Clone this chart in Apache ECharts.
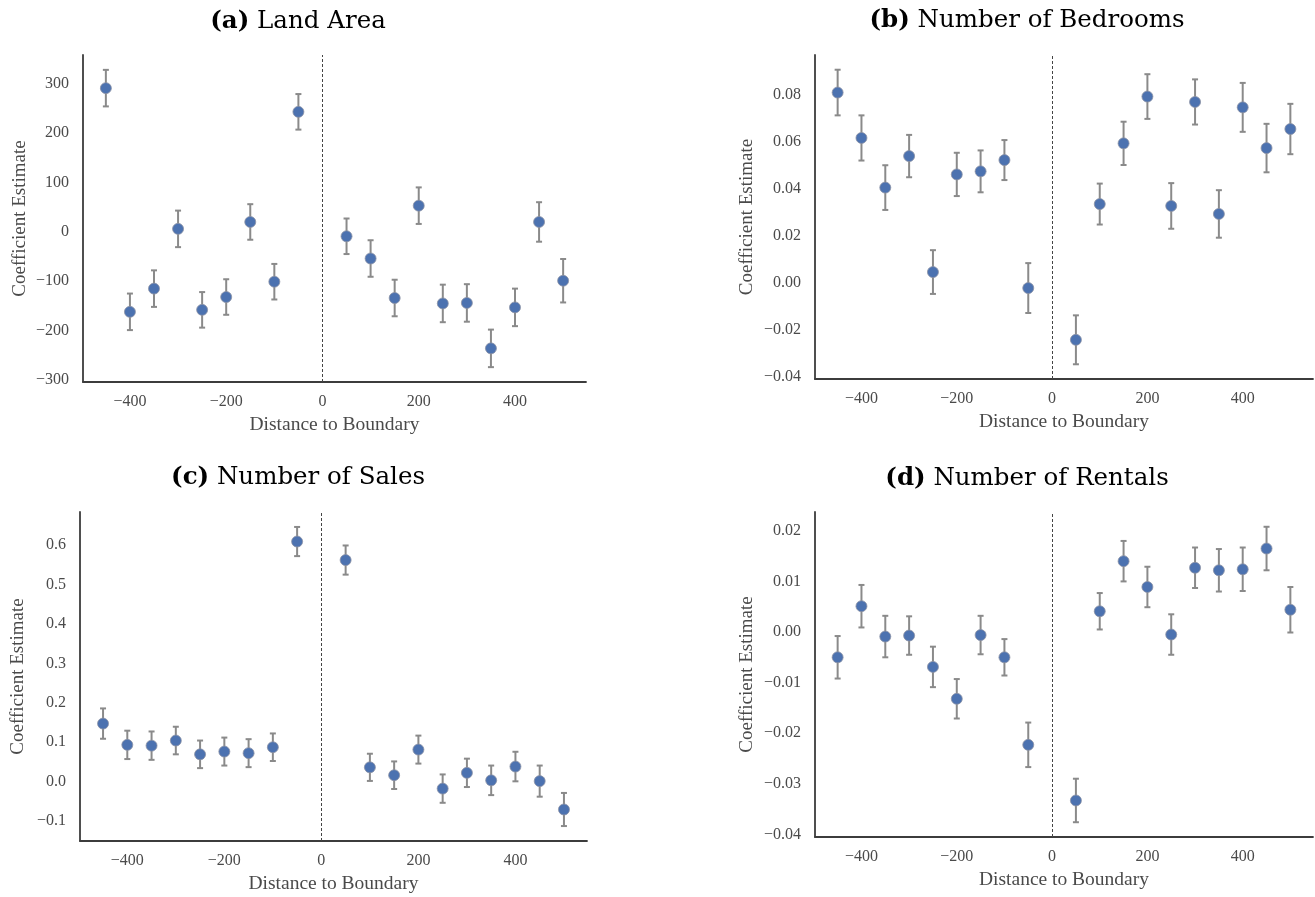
<!DOCTYPE html>
<html>
<head>
<meta charset="utf-8">
<script src="https://cdn.jsdelivr.net/npm/echarts@6.0.0/dist/echarts.min.js"></script>
<style>
  html, body { margin: 0; padding: 0; background: #fff; }
  #chart { width: 1315px; height: 897px; }
</style>
</head>
<body>
<div id="chart"></div>
<script>
// ---------------- DATA ----------------
const distances = [-450, -400, -350, -300, -250, -200, -150, -100, -50, 50, 100, 150, 200, 250, 300, 350, 400, 450, 500];

const landEst = [291, -162, -115, 6, -158, -132, 20, -101, 243, -9, -54, -134, 53, -145, -144, -236, -153, 20, -99];
const landErr = [37, 37, 37, 37, 36, 36, 36, 36, 36, 36, 37, 37, 37, 38, 38, 38, 38, 40, 44];

const bedEst = [0.0810, 0.0617, 0.0406, 0.0540, 0.0047, 0.0462, 0.0475, 0.0523, -0.0021, -0.0241, 0.0336, 0.0594, 0.0793, 0.0328, 0.0770, 0.0294, 0.0747, 0.0574, 0.0655];
const bedErr = [0.0097, 0.0096, 0.0095, 0.0090, 0.0093, 0.0092, 0.0089, 0.0085, 0.0106, 0.0104, 0.0087, 0.0092, 0.0095, 0.0097, 0.0096, 0.0101, 0.0104, 0.0103, 0.0107];

const salesEst = [0.147, 0.093, 0.091, 0.104, 0.069, 0.076, 0.072, 0.087, 0.609, 0.562, 0.036, 0.016, 0.081, -0.018, 0.022, 0.003, 0.038, 0.001, -0.071];
const salesErr = [0.0385, 0.036, 0.036, 0.035, 0.035, 0.0355, 0.0355, 0.035, 0.037, 0.037, 0.0345, 0.035, 0.0355, 0.036, 0.036, 0.0375, 0.0375, 0.0395, 0.042];

const rentEst = [-0.0050, 0.0051, -0.0009, -0.0007, -0.0069, -0.0132, -0.0006, -0.0050, -0.0223, -0.0333, 0.0041, 0.0140, 0.0089, -0.0005, 0.0127, 0.0122, 0.0124, 0.0165, 0.0044];
const rentErr = [0.0042, 0.0042, 0.0041, 0.0038, 0.0040, 0.0039, 0.0038, 0.0036, 0.0044, 0.0043, 0.0036, 0.0040, 0.0040, 0.0040, 0.0040, 0.0042, 0.0043, 0.0043, 0.0045];

const panelLetters = ['(a)', '(b)', '(c)', '(d)'];
const panelNames = ['Land Area', 'Number of Bedrooms', 'Number of Sales', 'Number of Rentals'];

const xTicks = [-400, -200, 0, 200, 400];
const landTicks = [-300, -200, -100, 0, 100, 200, 300];
const bedTicks = [-0.04, -0.02, 0.00, 0.02, 0.04, 0.06, 0.08];
const salesTicks = [-0.1, 0.0, 0.1, 0.2, 0.3, 0.4, 0.5, 0.6];
const rentTicks = [-0.04, -0.03, -0.02, -0.01, 0.00, 0.01, 0.02];

const xLabel = 'Distance to Boundary';
const yLabel = 'Coefficient Estimate';

// ---------------- LAYOUT / STYLE ----------------
const FONT = "'Liberation Serif', 'DejaVu Serif', serif";
const TITLE_FONT = "'DejaVu Serif', 'Liberation Serif', serif";
const panels = [
  { est: landEst,  err: landErr,  ticks: landTicks,  dec: 0, grid: { left: 83,  top: 55,  width: 503, height: 327 }, title: [298, 22],  yGap: 53 },
  { est: bedEst,   err: bedErr,   ticks: bedTicks,   dec: 2, grid: { left: 815, top: 55,  width: 498, height: 324 }, title: [1027, 21], yGap: 58 },
  { est: salesEst, err: salesErr, ticks: salesTicks, dec: 1, grid: { left: 80,  top: 512, width: 507, height: 329 }, title: [298, 478], yGap: 52 },
  { est: rentEst,  err: rentErr,  ticks: rentTicks,  dec: 2, grid: { left: 815, top: 512, width: 498, height: 325 }, title: [1027, 479], yGap: 58 }
];

function fmt(v, dec) {
  let s = Math.abs(v) < 1e-12 ? (0).toFixed(dec) : v.toFixed(dec);
  return s.replace('-', '\u2212');
}

function extent(lo, hi) {
  const mn = Math.min(...lo), mx = Math.max(...hi);
  const m = (mx - mn) * 0.05;
  return [mn - m, mx + m];
}

const xExt = (function () {
  const mn = Math.min(...distances), mx = Math.max(...distances);
  const m = (mx - mn) * 0.05;
  return [mn - m, mx + m];
})();

function renderErr(params, api) {
  const x = api.value(0), lo = api.value(1), hi = api.value(2);
  const a = api.coord([x, lo]);
  const b = api.coord([x, hi]);
  const cap = 3;
  const st = { stroke: '#8a8a8a', lineWidth: 2 };
  return {
    type: 'group',
    children: [
      { type: 'line', shape: { x1: a[0], y1: a[1], x2: b[0], y2: b[1] }, style: st },
      { type: 'line', shape: { x1: b[0] - cap, y1: b[1], x2: b[0] + cap, y2: b[1] }, style: st },
      { type: 'line', shape: { x1: a[0] - cap, y1: a[1], x2: a[0] + cap, y2: a[1] }, style: st }
    ]
  };
}

const grids = [], xAxes = [], yAxes = [], series = [], graphics = [];

panels.forEach((p, i) => {
  const lo = p.est.map((v, k) => v - p.err[k]);
  const hi = p.est.map((v, k) => v + p.err[k]);
  const yExt = extent(lo, hi);

  grids.push(Object.assign({ containLabel: false }, p.grid));

  xAxes.push({
    type: 'value', gridIndex: i, min: xExt[0], max: xExt[1],
    axisLine: { show: true, onZero: false, lineStyle: { color: '#3c3c3c', width: 1.8 } },
    axisTick: { show: false },
    splitLine: { show: false },
    axisLabel: {
      customValues: xTicks, margin: 12, color: '#4a4a4a', fontFamily: FONT, fontSize: 16,
      formatter: v => fmt(v, 0)
    },
    name: xLabel, nameLocation: 'middle', nameGap: 33,
    nameTextStyle: { color: '#4a4a4a', fontFamily: FONT, fontSize: 19.5 }
  });

  yAxes.push({
    type: 'value', gridIndex: i, min: yExt[0], max: yExt[1],
    axisLine: { show: true, onZero: false, lineStyle: { color: '#3c3c3c', width: 1.8 } },
    axisTick: { show: false },
    splitLine: { show: false },
    axisLabel: {
      customValues: p.ticks, margin: 14, color: '#4a4a4a', fontFamily: FONT, fontSize: 16,
      formatter: v => fmt(v, p.dec)
    },
    name: yLabel, nameLocation: 'middle', nameGap: p.yGap, nameRotate: 90,
    nameTextStyle: { color: '#4a4a4a', fontFamily: FONT, fontSize: 19 }
  });

  series.push({
    type: 'custom', xAxisIndex: i, yAxisIndex: i, z: 2,
    renderItem: renderErr,
    encode: { x: 0, y: [1, 2] },
    data: distances.map((d, k) => [d, lo[k], hi[k]]),
    silent: true
  });

  series.push({
    type: 'scatter', xAxisIndex: i, yAxisIndex: i, z: 3,
    symbol: 'circle', symbolSize: 11,
    itemStyle: { color: '#4c72b0', borderColor: '#8c92a4', borderWidth: 0.8, opacity: 1 },
    data: distances.map((d, k) => [d, p.est[k]]),
    silent: true,
    markLine: {
      silent: true, symbol: 'none', animation: false,
      label: { show: false },
      lineStyle: { color: '#444', width: 1, type: [3, 2] },
      data: [{ xAxis: 0 }]
    }
  });

  graphics.push({
    type: 'text', x: p.title[0], y: p.title[1],
    style: {
      text: '{b|' + panelLetters[i] + '}{n| ' + panelNames[i] + '}',
      textAlign: 'center', textVerticalAlign: 'middle',
      rich: {
        b: { fontFamily: TITLE_FONT, fontSize: 24.5, fontWeight: 'bold', fill: '#000' },
        n: { fontFamily: TITLE_FONT, fontSize: 24.5, fill: '#000' }
      }
    }
  });
});

const chart = echarts.init(document.getElementById('chart'), null, { renderer: 'canvas' });
chart.setOption({
  backgroundColor: '#ffffff',
  animation: false,
  grid: grids,
  xAxis: xAxes,
  yAxis: yAxes,
  series: series,
  graphic: graphics
});
</script>
</body>
</html>
